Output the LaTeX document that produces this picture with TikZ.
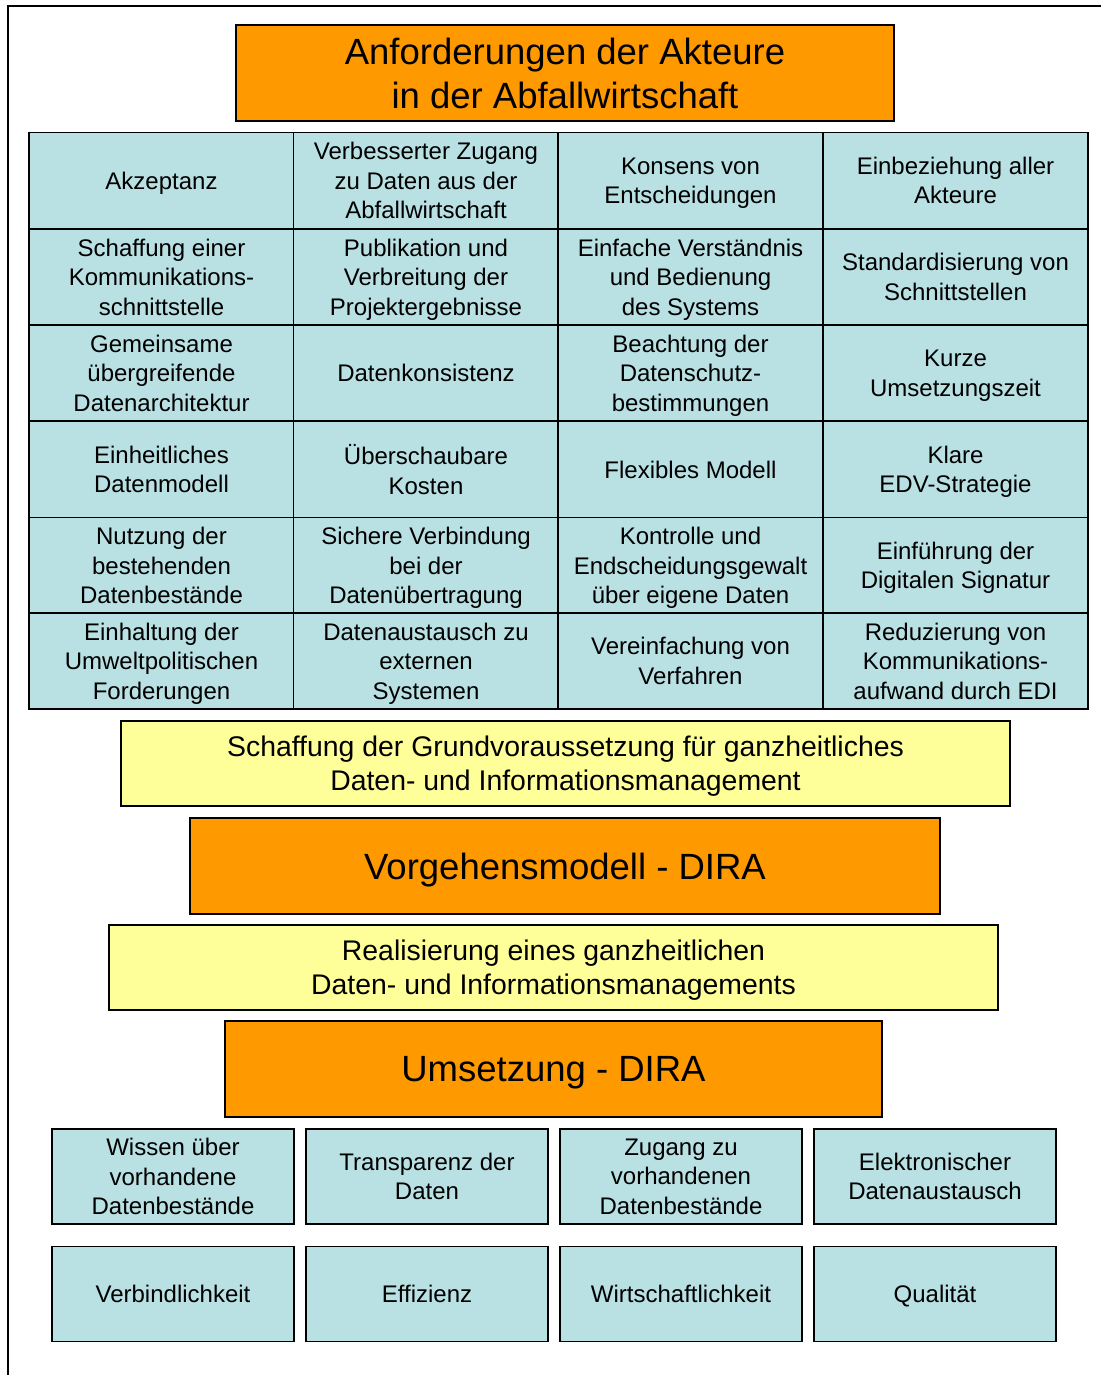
\documentclass[tikz,border=0pt]{standalone}
\usepackage{fontspec}
\setmainfont{Liberation Sans}
\definecolor{boxorange}{HTML}{FF9900}
\definecolor{boxblue}{HTML}{B9E0E3}
\definecolor{boxyellow}{HTML}{FFFF99}
\begin{document}
\begin{tikzpicture}[x=1pt,y=-1pt,
  base/.style={draw=black, line width=1.5pt, inner sep=0pt, align=center, text=black,
    text depth=0pt},
  cell/.style={base, fill=boxblue, minimum width=265pt, minimum height=96pt,
    font=\fontsize{24}{29.5}\selectfont},
  tile/.style={base, fill=boxblue, minimum width=242pt, minimum height=95pt,
    font=\fontsize{24}{29.5}\selectfont},
  banner/.style={base, fill=boxorange, minimum height=96pt,
    font=\fontsize{36.5}{44}\selectfont},
  band/.style={base, fill=boxyellow, minimum width=889pt, minimum height=85pt,
    font=\fontsize{28.4}{34}\selectfont}]
\useasboundingbox (0,0) rectangle (1101,1375);

% outer frame (top and left edges)
\coordinate (fA) at (8,1375);
\coordinate (fB) at (8,6);
\coordinate (fC) at (1101,6);
\draw[line width=1.8pt] (fA) -- (fB) -- (fC);

% heading
\node[banner, minimum width=658pt] (head) at (565,73) {Anforderungen der Akteure\\in der Abfallwirtschaft};

% requirement grid
\node[cell] (r1c1) at (161.5,180.5) {Akzeptanz};
\node[cell] (r1c2) at (426,180.5) {Verbesserter Zugang\\zu Daten aus der\\Abfallwirtschaft};
\node[cell] (r1c3) at (690.5,180.5) {Konsens von\\Entscheidungen};
\node[cell] (r1c4) at (955.5,180.5) {Einbeziehung aller\\Akteure};

\node[cell] (r2c1) at (161.5,277) {Schaffung einer\\Kommunikations-\\schnittstelle};
\node[cell] (r2c2) at (426,277) {Publikation und\\Verbreitung der\\Projektergebnisse};
\node[cell] (r2c3) at (690.5,277) {Einfache Verständnis\\und Bedienung\\des Systems};
\node[cell] (r2c4) at (955.5,277) {Standardisierung von\\Schnittstellen};

\node[cell] (r3c1) at (161.5,373) {Gemeinsame\\übergreifende\\Datenarchitektur};
\node[cell] (r3c2) at (426,373) {Datenkonsistenz};
\node[cell] (r3c3) at (690.5,373) {Beachtung der\\Datenschutz-\\bestimmungen};
\node[cell] (r3c4) at (955.5,373) {Kurze\\Umsetzungszeit};

\node[cell] (r4c1) at (161.5,469.5) {Einheitliches\\Datenmodell};
\node[cell] (r4c2) at (426,469.5) {Überschaubare\\Kosten};
\node[cell] (r4c3) at (690.5,469.5) {Flexibles Modell};
\node[cell] (r4c4) at (955.5,469.5) {Klare\\EDV-Strategie};

\node[cell] (r5c1) at (161.5,565.5) {Nutzung der\\bestehenden\\Datenbestände};
\node[cell] (r5c2) at (426,565.5) {Sichere Verbindung\\bei der\\Datenübertragung};
\node[cell] (r5c3) at (690.5,565.5) {Kontrolle und\\Endscheidungsgewalt\\über eigene Daten};
\node[cell] (r5c4) at (955.5,565.5) {Einführung der\\Digitalen Signatur};

\node[cell] (r6c1) at (161.5,661) {Einhaltung der\\Umweltpolitischen\\Forderungen};
\node[cell] (r6c2) at (426,661) {Datenaustausch zu\\externen\\Systemen};
\node[cell] (r6c3) at (690.5,661) {Vereinfachung von\\Verfahren};
\node[cell] (r6c4) at (955.5,661) {Reduzierung von\\Kommunikations-\\aufwand durch EDI};

% middle layers
\node[band] (basis) at (565.5,763.5) {Schaffung der Grundvoraussetzung für ganzheitliches\\Daten- und Informationsmanagement};
\node[banner, minimum width=750pt] (model) at (565,866) {Vorgehensmodell - DIRA};
\node[band] (real) at (553.5,967.5) {Realisierung eines ganzheitlichen\\Daten- und Informationsmanagements};
\node[banner, minimum width=657pt] (impl) at (553.5,1069) {Umsetzung - DIRA};

% outcomes
\node[tile] (o1) at (173,1176.5) {Wissen über\\vorhandene\\Datenbestände};
\node[tile] (o2) at (427,1176.5) {Transparenz der\\Daten};
\node[tile] (o3) at (681,1176.5) {Zugang zu\\vorhandenen\\Datenbestände};
\node[tile] (o4) at (935,1176.5) {Elektronischer\\Datenaustausch};

\node[tile] (q1) at (173,1294) {Verbindlichkeit};
\node[tile] (q2) at (427,1294) {Effizienz};
\node[tile] (q3) at (681,1294) {Wirtschaftlichkeit};
\node[tile] (q4) at (935,1294) {Qualität};
\end{tikzpicture}
\end{document}
